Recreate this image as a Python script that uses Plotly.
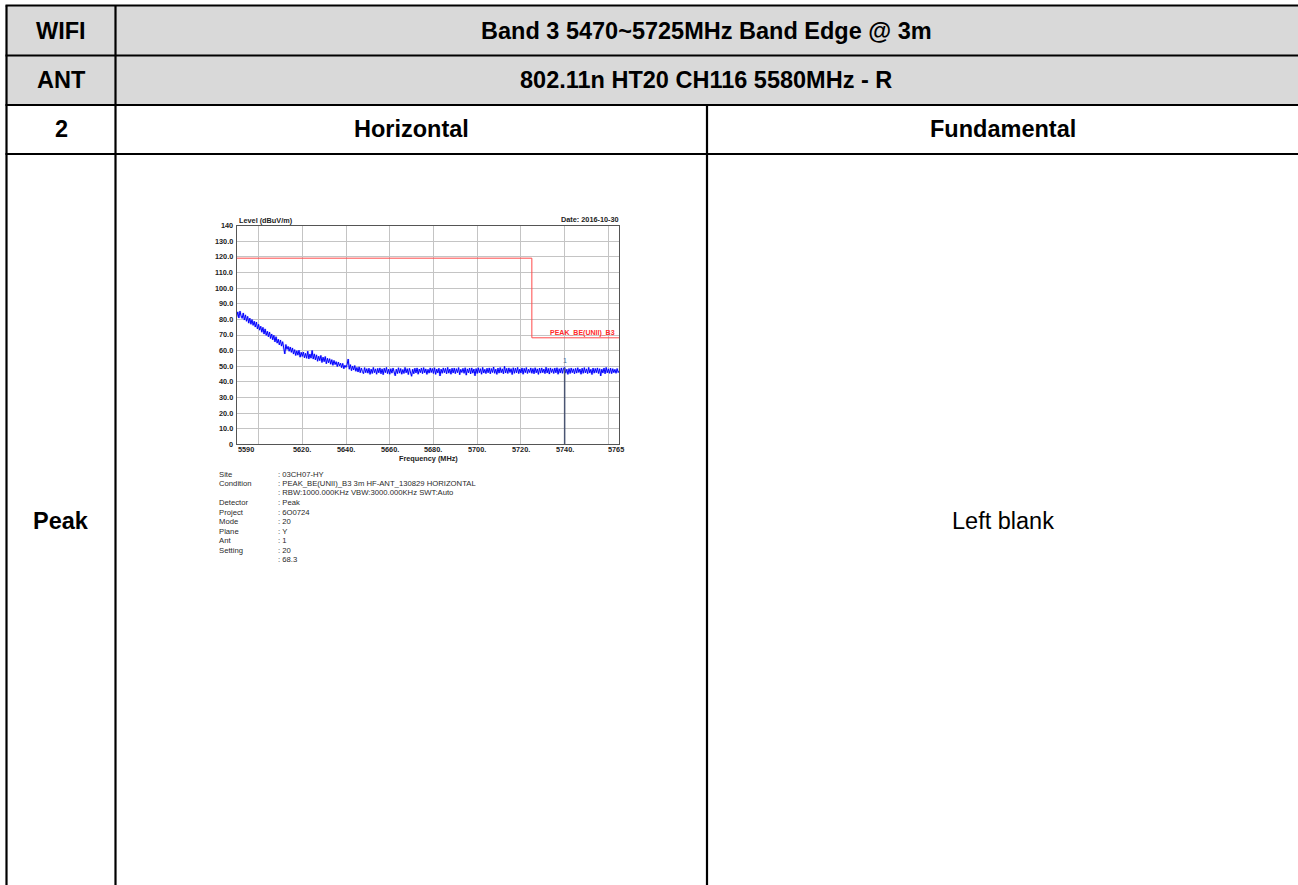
import plotly.graph_objects as go

W, H = 1298, 885
FONT = "Liberation Sans, Arial, Helvetica, sans-serif"

# ---------------- data ----------------
freq_start = 5590.0
freq_step = 0.5
level = [
    81.6, 84.8, 80.9, 85.3, 82.2, 80.7, 84.1, 79.6, 82.9, 78.8,
    81.9, 77.6, 80.8, 76.9, 79.9, 76.2, 78.8, 75.1, 78.3, 73.9,
    76.8, 73.1, 75.6, 71.8, 74.9, 70.6, 73.9, 69.8, 72.4, 68.9,
    71.9, 67.8, 70.6, 66.9, 69.8, 65.6, 68.9, 64.8, 67.3, 63.7,
    66.8, 62.9, 65.7, 61.6, 57.9, 63.9, 60.8, 62.7, 59.6, 62.3,
    58.9, 61.7, 57.8, 60.6, 56.9, 59.9, 57.1, 60.2, 55.8, 58.9,
    56.3, 59.1, 55.4, 58.2, 55.1, 59.6, 54.7, 57.8, 55.2, 60.1,
    54.6, 57.9, 54.1, 57.3, 53.2, 56.4, 53.6, 56.9, 52.4, 55.8,
    52.9, 56.2, 51.6, 55.1, 52.2, 54.8, 51.3, 54.2, 50.6, 53.7,
    51.1, 52.9, 49.8, 52.6, 50.2, 51.9, 49.1, 51.8, 48.4, 50.6,
    49.3, 51.2, 54.6, 48.1, 51.0, 47.2, 50.1, 47.6, 50.4, 46.8,
    49.2, 46.3, 49.6, 45.9, 48.8, 46.6, 45.3, 49.1, 45.9, 48.4,
    45.6, 48.7, 44.8, 48.1, 45.4, 49.2, 45.9, 48.3, 44.9, 48.6,
    45.8, 48.9, 45.2, 48.3, 44.6, 48.7, 45.9, 49.2, 45.3, 48.1,
    44.9, 48.4, 45.6, 48.8, 45.9, 43.9, 48.1, 45.3, 49.0, 45.6,
    48.5, 44.9, 47.9, 45.4, 49.2, 45.8, 48.4, 44.7, 48.6, 45.5,
    43.6, 48.1, 45.2, 48.7, 45.7, 48.9, 44.9, 48.2, 45.9, 48.8,
    45.3, 49.1, 45.8, 48.3, 44.8, 48.0, 45.6, 48.9, 46.0, 48.5,
    45.4, 49.0, 44.8, 48.2, 45.7, 48.7, 43.8, 48.1, 45.5, 48.9,
    45.9, 48.6, 45.2, 49.2, 45.6, 48.2, 44.9, 48.7, 45.7, 48.8,
    45.3, 48.4, 45.9, 49.1, 44.6, 48.0, 46.0, 48.6, 45.5, 49.0,
    44.3, 48.3, 45.8, 48.8, 45.1, 48.9, 45.6, 48.2, 43.9, 48.5,
    45.4, 49.0, 45.9, 48.4, 44.9, 49.2, 45.7, 48.0, 45.3, 48.7,
    45.8, 48.9, 45.2, 48.5, 46.0, 49.5, 45.5, 48.1, 44.8, 48.8,
    45.6, 49.1, 45.9, 48.3, 45.2, 49.9, 45.7, 48.6, 45.4, 48.9,
    46.0, 48.4, 44.7, 49.0, 45.5, 48.7, 45.8, 49.2, 45.3, 48.2,
    45.7, 48.9, 44.9, 48.6, 45.9, 49.1, 45.4, 48.1, 46.0, 48.9,
    45.5, 48.5, 45.2, 49.0, 45.8, 48.3, 44.8, 48.8, 45.6, 48.9,
    45.9, 48.2, 45.3, 49.3, 45.7, 48.6, 45.0, 48.9, 46.0, 48.3,
    45.4, 48.8, 45.8, 49.0, 44.9, 48.4, 45.7, 48.9, 45.5, 48.7,
    49.1, 45.6, 48.1, 44.8, 48.5, 45.4, 48.8, 45.9, 48.3, 45.2,
    48.6, 45.6, 49.0, 46.0, 48.2, 44.9, 48.7, 45.5, 49.1, 45.8,
    48.3, 45.3, 49.2, 45.7, 48.0, 44.7, 48.8, 45.6, 48.5, 45.9,
    48.9, 45.4, 48.4, 43.8, 48.1, 45.7, 48.8, 45.2, 49.2, 45.8,
    48.3, 45.5, 48.7, 45.3, 48.4, 45.9, 48.0, 45.5, 48.5, 46.0,
    47.2,
]
freq = [freq_start + freq_step * i for i in range(len(level))]

limit_freq = [5590, 5725, 5725, 5765]
limit_level = [119.2, 119.2, 68.2, 68.2]
limit_name = "PEAK_BE(UNII)_B3"

marker_freq = 5740
marker_level = 49.1
marker_name = "1"

x_range = [5590, 5765]
y_range = [0, 140]
x_grid_vals = [5600, 5620, 5640, 5660, 5680, 5700, 5720, 5740, 5760]
x_tick_vals = [5590, 5620, 5640, 5660, 5680, 5700, 5720, 5740, 5765]
x_tick_text = ["5590", "5620.", "5640.", "5660.", "5680.", "5700.", "5720.", "5740.", "5765"]
y_tick_vals = [0, 10, 20, 30, 40, 50, 60, 70, 80, 90, 100, 110, 120, 130, 140]
y_tick_text = ["0", "10.0", "20.0", "30.0", "40.0", "50.0", "60.0", "70.0", "80.0",
               "90.0", "100.0", "110.0", "120.0", "130.0", "140"]

y_title = "Level (dBuV/m)"
x_title = "Frequency (MHz)"
date_text = "Date: 2016-10-30"

info_labels = ["Site", "Condition", "", "Detector", "Project", "Mode", "Plane", "Ant", "Setting", ""]
info_values = [": 03CH07-HY",
               ": PEAK_BE(UNII)_B3 3m HF-ANT_130829 HORIZONTAL",
               ": RBW:1000.000KHz VBW:3000.000KHz SWT:Auto",
               ": Peak", ": 6O0724", ": 20", ": Y", ": 1", ": 20", ": 68.3"]

row1 = ["WIFI", "Band 3 5470~5725MHz Band Edge @ 3m"]
row2 = ["ANT", "802.11n HT20 CH116 5580MHz - R"]
row3 = ["2", "Horizontal", "Fundamental"]
row4 = ["Peak", "Left blank"]

# ---------------- layout helpers ----------------
def px(x):
    return x / W

def py(y):
    return 1 - y / H

# plot area in pixels
PL, PR, PT, PB = 236.7, 619.3, 225.7, 444.3

fig = go.Figure()

fig.add_trace(go.Scatter(x=freq, y=level, mode="lines",
                         line=dict(color="rgba(90,90,255,0.3)", width=2.4),
                         hoverinfo="skip", showlegend=False))
fig.add_trace(go.Scatter(x=freq, y=level, mode="lines",
                         line=dict(color="#0000ff", width=1),
                         showlegend=False, name="Level"))
fig.add_trace(go.Scatter(x=limit_freq, y=limit_level, mode="lines",
                         line=dict(color="#ff4a4a", width=1),
                         showlegend=False, name=limit_name))
fig.add_trace(go.Scatter(x=[marker_freq, marker_freq], y=[0, marker_level], mode="lines",
                         line=dict(color="#4a5572", width=1.5),
                         showlegend=False, name="marker"))

fig.update_xaxes(domain=[px(PL), px(PR)], range=x_range, tickvals=x_grid_vals,
                 showticklabels=False, ticks="", showgrid=True, gridcolor="#c4c4c4",
                 gridwidth=1, zeroline=False, showline=True, linecolor="#555555",
                 linewidth=1.2, mirror=True)
fig.update_yaxes(domain=[py(PB), py(PT)], range=y_range, tickvals=y_tick_vals,
                 showticklabels=False, ticks="", showgrid=True, gridcolor="#c4c4c4",
                 gridwidth=1, zeroline=False, showline=True, linecolor="#555555",
                 linewidth=1.2, mirror=True)

ann = []
small_bold = dict(family=FONT, size=7.3, color="#222222")
for v, t in zip(y_tick_vals, y_tick_text):
    ann.append(dict(x=px(PL - 1.5), y=v, xref="paper", yref="y", text="<b>%s</b>" % t,
                    showarrow=False, xanchor="right", yanchor="middle", font=small_bold))
for i, (v, t) in enumerate(zip(x_tick_vals, x_tick_text)):
    xa = "center"
    xs = 0
    if i == 0:
        xa = "left"
        xs = -1
    elif i == len(x_tick_vals) - 1:
        xs = -3
    ann.append(dict(x=v, y=py(449.5), xref="x", yref="paper", text="<b>%s</b>" % t,
                    showarrow=False, xanchor=xa, xshift=xs, yanchor="middle", font=small_bold))
ann.append(dict(x=px(428), y=py(458.5), xref="paper", yref="paper", text="<b>%s</b>" % x_title,
                showarrow=False, xanchor="center", yanchor="middle", font=small_bold))
ann.append(dict(x=px(PL), y=py(220.5), xref="paper", yref="paper", text="<b>%s</b>" % y_title,
                showarrow=False, xanchor="left", yanchor="middle", font=small_bold))
ann.append(dict(x=px(620.5), y=py(219.5), xref="paper", yref="paper", text="<b>%s</b>" % date_text,
                showarrow=False, xanchor="right", yanchor="middle", font=small_bold))
ann.append(dict(x=5764, y=71.2, xref="x", yref="y", text="<b>%s</b>" % limit_name,
                showarrow=False, xanchor="right", yanchor="middle",
                font=dict(family=FONT, size=7, color="#ff2a2a")))
ann.append(dict(x=marker_freq, y=53.8, xref="x", yref="y", text=marker_name,
                showarrow=False, xanchor="center", yanchor="middle",
                font=dict(family=FONT, size=7, color="#4a6a9a")))

info_font = dict(family=FONT, size=7.7, color="#2a2a2a")
for i, (lab, val) in enumerate(zip(info_labels, info_values)):
    yy = 474 + 9.5 * i
    if lab:
        ann.append(dict(x=px(216.5), y=py(yy), xref="paper", yref="paper", text=lab,
                        showarrow=False, xanchor="left", yanchor="middle", font=info_font))
    ann.append(dict(x=px(275.5), y=py(yy), xref="paper", yref="paper", text=val,
                    showarrow=False, xanchor="left", yanchor="middle", font=info_font))

# table
TL, C1, C2, TR = 6.5, 115.5, 707, 1300
R0, R1, R2, R3, RB = 5.5, 55.5, 105, 154, 890
big = dict(family=FONT, size=23.5, color="#000000")
cells = [
    (row1[0], (TL + C1) / 2, (R0 + R1) / 2, True),
    (row1[1], 706, (R0 + R1) / 2, True),
    (row2[0], (TL + C1) / 2, (R1 + R2) / 2, True),
    (row2[1], 706, (R1 + R2) / 2, True),
    (row3[0], (TL + C1) / 2, (R2 + R3) / 2, True),
    (row3[1], (C1 + C2) / 2, (R2 + R3) / 2, True),
    (row3[2], 1002.5, (R2 + R3) / 2, True),
    (row4[0], (TL + C1) / 2, 521, True),
    (row4[1], 1002.5, 521, False),
]
for t, cx, cy, b in cells:
    ann.append(dict(x=px(cx), y=py(cy), xref="paper", yref="paper",
                    text=("<b>%s</b>" % t) if b else t, showarrow=False,
                    xanchor="center", yanchor="middle", font=big))

shapes = []
shapes.append(dict(type="rect", xref="paper", yref="paper", x0=px(TL), x1=px(TR),
                   y0=py(R2), y1=py(R0), fillcolor="#d9d9d9", line=dict(width=0), layer="below"))
for yy in [R0, R1, R2, R3]:
    shapes.append(dict(type="line", xref="paper", yref="paper", x0=px(TL - 1), x1=px(TR),
                       y0=py(yy), y1=py(yy), line=dict(color="#000000", width=2.2)))
for xx, y0 in [(TL, R0), (C1, R0), (C2, R2)]:
    shapes.append(dict(type="line", xref="paper", yref="paper", x0=px(xx), x1=px(xx),
                       y0=py(y0), y1=py(RB), line=dict(color="#000000", width=2.2)))

fig.update_layout(width=W, height=H, margin=dict(l=0, r=0, t=0, b=0),
                  paper_bgcolor="#ffffff", plot_bgcolor="#ffffff",
                  annotations=ann, shapes=shapes, showlegend=False,
                  font=dict(family=FONT))

fig.write_html("out.html", config={"displayModeBar": False},
               post_script="document.body.style.margin='0px';document.body.style.overflow='hidden';")
